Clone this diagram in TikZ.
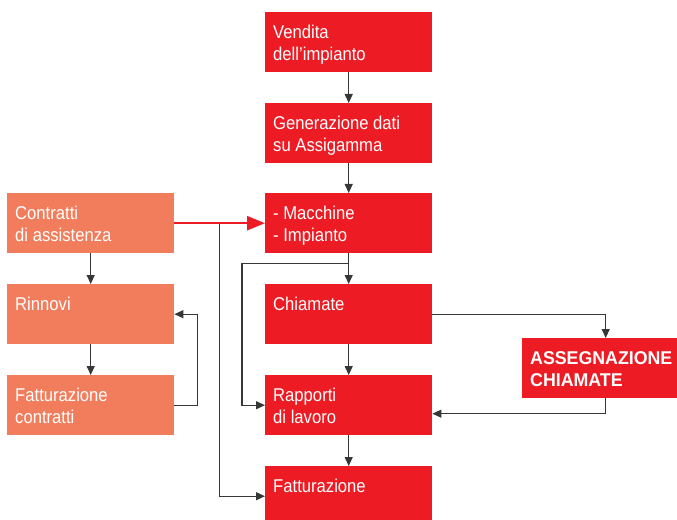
\documentclass[tikz,border=0pt]{standalone}
\usepackage{fontspec}
\setmainfont{Liberation Sans}[FakeStretch=0.9, BoldFeatures={FakeStretch=0.96}]
\usetikzlibrary{arrows.meta}
\definecolor{boxred}{RGB}{237,28,36}
\definecolor{boxorange}{RGB}{242,125,92}
\definecolor{linegray}{RGB}{55,55,55}
\newcommand{\boxtext}[1]{\parbox[c][60bp][t]{151bp}{\raggedright\fontsize{18.5bp}{22bp}\selectfont\vspace*{10.6bp}\strut #1}}

\begin{document}
\begin{tikzpicture}[x=1bp, y=-1bp,
  redbox/.style = {fill=boxred, text=white, anchor=north west, inner xsep=8bp, inner ysep=0bp},
  orangebox/.style = {redbox, fill=boxorange},
  conn/.style = {draw=linegray, line width=1.1bp, -{Triangle[length=9bp, width=8bp]}},
  bigconn/.style = {draw=boxred, line width=2.6bp, -{Triangle[length=18bp, width=14bp]}}]
\useasboundingbox (0,0) rectangle (677,520);
\clip (0,0) rectangle (677,520);
\node[redbox] (vend) at (265,12) {\boxtext{Vendita\\dell’impianto}};
\node[redbox] (gen) at (265,103) {\boxtext{Generazione dati\\su Assigamma}};
\node[redbox] (macch) at (265,193) {\boxtext{- Macchine\\- Impianto}};
\node[redbox] (chiam) at (265,284) {\boxtext{Chiamate}};
\node[redbox] (rapp) at (265,375) {\boxtext{Rapporti\\di lavoro}};
\node[redbox] (fatt) at (265,466) {\boxtext{Fatturazione}};
\node[redbox] (asse) at (522,338) {\boxtext{\bfseries ASSEGNAZIONE\\CHIAMATE}};
\node[orangebox] (contr) at (7,193) {\boxtext{Contratti\\di assistenza}};
\node[orangebox] (rinn) at (7,284) {\boxtext{Rinnovi}};
\node[orangebox] (fattc) at (7,375) {\boxtext{Fatturazione\\contratti}};
\draw[conn] (vend) -- (gen);
\draw[conn] (gen) -- (macch);
\draw[conn] (macch) -- (chiam);
\draw[conn] (chiam) -- (rapp);
\draw[conn] (rapp) -- (fatt);
\draw[conn] ([yshift=-10bp]macch.south) -| ([xshift=-23bp]rapp.west) -- (rapp.west);
\draw[conn] (chiam.east) -| (asse.north);
\draw[conn] (asse.south) |- ([yshift=-8.5bp]rapp.east);
\draw[conn] (contr) -- (rinn);
\draw[conn] (rinn) -- (fattc);
\draw[conn] (fattc.east) -- ++(23,0) |- (rinn.east);
\draw[conn] ([xshift=45bp]contr.east) |- (fatt.west);
\draw[bigconn] (contr.east) -- (macch.west);
\end{tikzpicture}
\end{document}
